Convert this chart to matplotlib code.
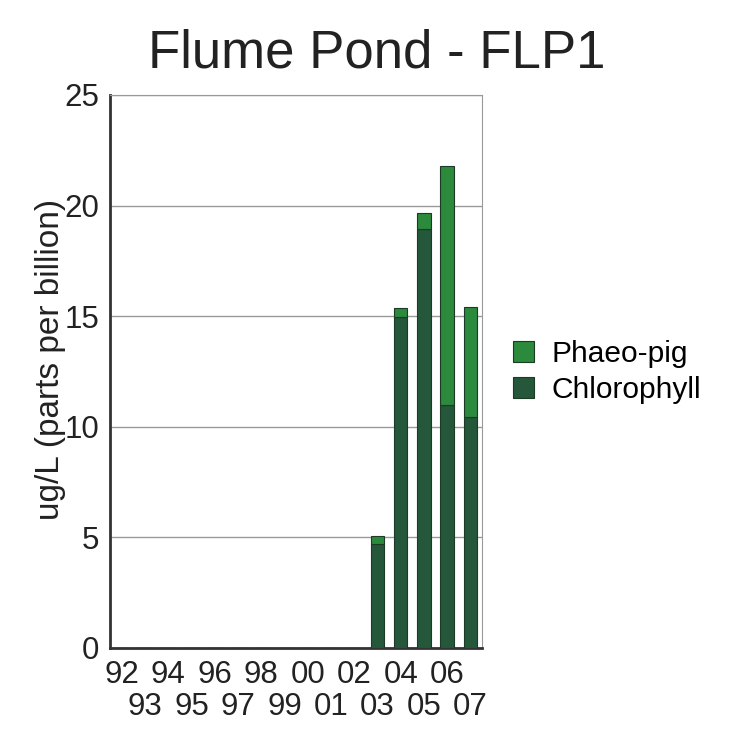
import numpy as np
from matplotlib import pyplot as plt

plt.rcParams['font.family'] = ['Liberation Sans', 'DejaVu Sans']

years = ['92', '93', '94', '95', '96', '97', '98', '99',
         '00', '01', '02', '03', '04', '05', '06', '07']
chlorophyll = [0, 0, 0, 0, 0, 0, 0, 0, 0, 0, 0, 4.7, 14.95, 18.95, 11.0, 10.45]
phaeo = [0, 0, 0, 0, 0, 0, 0, 0, 0, 0, 0, 0.37, 0.4, 0.7, 10.8, 4.95]

chl_color = '#25573a'
phaeo_color = '#2b8a3c'
text_color = '#222222'

fig = plt.figure(figsize=(7.35, 7.38), dpi=100)
ax = fig.add_axes([0.1497, 0.122, 0.5061, 0.7493])

x = np.arange(len(years))
ax.bar(x, chlorophyll, width=0.58, color=chl_color, edgecolor='#1c3a26',
       linewidth=0.8, label='Chlorophyll', zorder=3)
ax.bar(x, phaeo, width=0.58, bottom=chlorophyll, color=phaeo_color,
       edgecolor='#1c3a26', linewidth=0.8, label='Phaeo-pig', zorder=3)

ax.set_xlim(-0.5, len(years) - 0.5)
ax.set_ylim(0, 25)
ax.set_yticks([0, 5, 10, 15, 20, 25])
ax.yaxis.grid(True, color='#999999', linewidth=1)
ax.set_axisbelow(True)

# even years on the first row, odd years on a second row below
ax.set_xticks(x[::2])
ax.set_xticklabels(years[::2])
ax.set_xticks(x[1::2], minor=True)
ax.set_xticklabels(years[1::2], minor=True)
ax.tick_params(axis='x', which='major', length=0, labelsize=22.5, pad=8.5,
               colors=text_color)
ax.tick_params(axis='x', which='minor', length=0, labelsize=22.5, pad=32,
               colors=text_color)
ax.tick_params(axis='y', length=0, labelsize=22.5, pad=8, colors=text_color)

for s in ['top', 'right']:
    ax.spines[s].set_color('#999999')
for s in ['left', 'bottom']:
    ax.spines[s].set_color('#333333')
    ax.spines[s].set_linewidth(2)

fig.text(0.069, 0.5136, 'ug/L (parts per billion)', rotation=90,
         ha='center', va='center', fontsize=24, color=text_color)
fig.suptitle('Flume Pond - FLP1', fontsize=38, x=0.512, y=0.928,
             va='center', color=text_color)

handles, lbls = ax.get_legend_handles_labels()
fig.legend(handles[::-1], lbls[::-1], loc='upper left',
           bbox_to_anchor=(0.698, 0.539), frameon=False, fontsize=21.5,
           borderpad=0, borderaxespad=0,
           handlelength=0.7, handleheight=0.7, handletextpad=0.6,
           labelspacing=0.25)

plt.savefig('out.png', dpi=100)
